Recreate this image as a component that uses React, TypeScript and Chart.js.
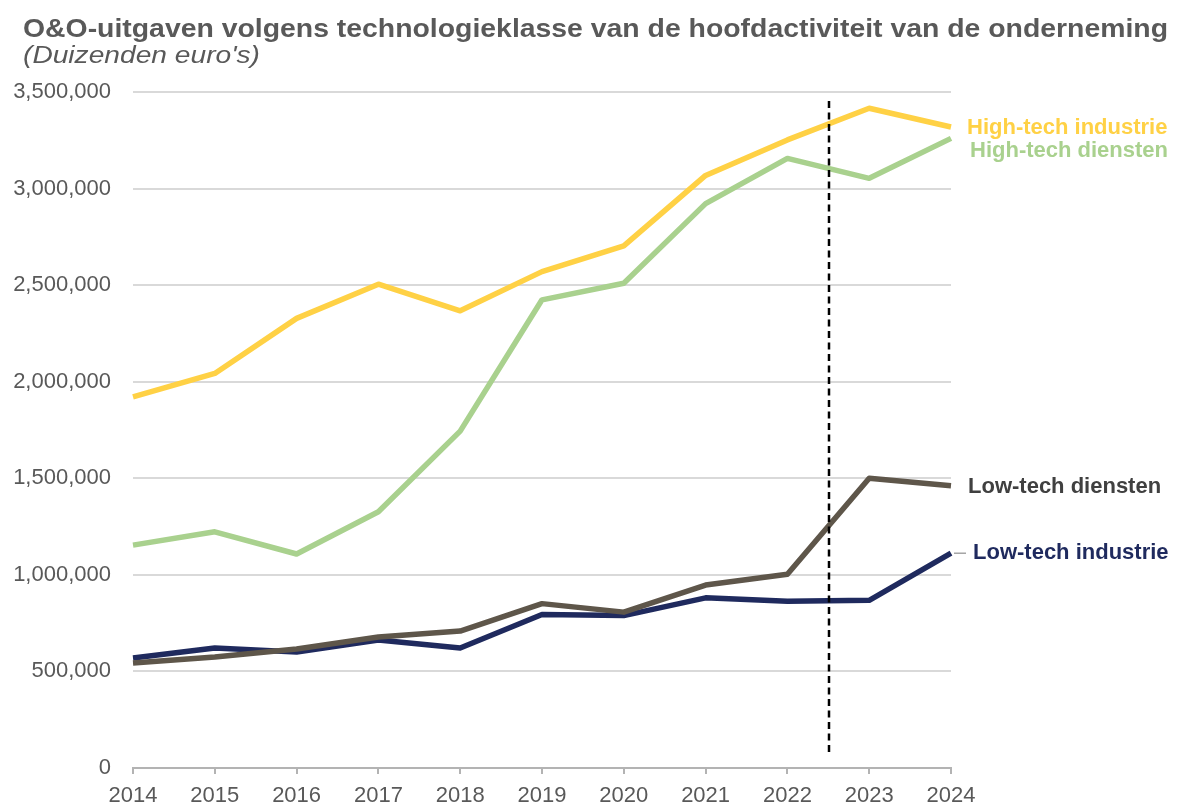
import React, { useEffect, useRef } from 'react';
import { Chart, registerables } from 'chart.js';

Chart.register(...registerables);

const years = ['2014', '2015', '2016', '2017', '2018', '2019', '2020', '2021', '2022', '2023', '2024'];
const highTechIndustrie = [1922000, 2043000, 2328000, 2505000, 2367000, 2570000, 2703000, 3068000, 3252000, 3416000, 3319000];
const highTechDiensten = [1154000, 1223000, 1108000, 1327000, 1744000, 2424000, 2510000, 2922000, 3156000, 3053000, 3260000];
const lowTechDiensten = [544000, 575000, 616000, 678000, 709000, 851000, 807000, 947000, 1003000, 1500000, 1461000];
const lowTechIndustrie = [570000, 621000, 600000, 663000, 621000, 795000, 789000, 881000, 863000, 868000, 1112000];

const titleText = 'O&O-uitgaven volgens technologieklasse van de hoofdactiviteit van de onderneming';
const subtitleText = "(Duizenden euro's)";
const yMax = 3500000;
const yStep = 500000;
const dividerIndex = 8.5; // between 2022 and 2023

const FONT = '"Liberation Sans", Arial, Helvetica, sans-serif';
const GREY_TEXT = '#595959';

const labelConfig = [
  { text: 'Low-tech diensten', color: '#404040', dx: 17, dy: 1, leader: false },
  { text: 'Low-tech industrie', color: '#1f2a5e', dx: 22, dy: 0, leader: true },
  { text: 'High-tech diensten', color: '#a9d18e', dx: 19, dy: 13, leader: false },
  { text: 'High-tech industrie', color: '#ffd145', dx: 16, dy: 1, leader: false },
];

const decorPlugin = {
  id: 'decor',
  afterDraw(chart: any) {
    const ctx = chart.ctx;
    const area = chart.chartArea;
    const xScale = chart.scales.x;

    // Title
    ctx.save();
    ctx.fillStyle = GREY_TEXT;
    ctx.textBaseline = 'alphabetic';
    ctx.textAlign = 'left';
    ctx.font = `bold 25px ${FONT}`;
    let w = ctx.measureText(titleText).width;
    let sx = 1145 / w;
    ctx.save();
    ctx.translate(23, 37);
    ctx.scale(sx, 1);
    ctx.fillText(titleText, 0, 0);
    ctx.restore();

    ctx.font = `italic 24px ${FONT}`;
    w = ctx.measureText(subtitleText).width;
    sx = 237 / w;
    ctx.save();
    ctx.translate(23, 63);
    ctx.scale(sx, 1);
    ctx.fillText(subtitleText, 0, 0);
    ctx.restore();
    ctx.restore();

    // Dashed divider
    const dx = Math.round(xScale.getPixelForValue(dividerIndex)) + 1;
    ctx.save();
    ctx.strokeStyle = '#000000';
    ctx.lineWidth = 2.5;
    ctx.setLineDash([7, 4.5]);
    ctx.beginPath();
    ctx.moveTo(dx, area.top + 9);
    ctx.lineTo(dx, area.bottom - 12);
    ctx.stroke();
    ctx.restore();

    // Series labels
    chart.data.datasets.forEach((ds: any, i: number) => {
      const meta = chart.getDatasetMeta(i);
      const pts = meta.data;
      const last = pts[pts.length - 1];
      const cfg = labelConfig[i];
      const y = last.y + cfg.dy;
      ctx.save();
      if (cfg.leader) {
        ctx.strokeStyle = '#a6a6a6';
        ctx.lineWidth = 1.5;
        ctx.beginPath();
        ctx.moveTo(area.right + 3, y);
        ctx.lineTo(area.right + 15, y);
        ctx.stroke();
      }
      ctx.font = `bold 22px ${FONT}`;
      ctx.fillStyle = cfg.color;
      ctx.textBaseline = 'middle';
      ctx.textAlign = 'left';
      ctx.fillText(cfg.text, area.right + cfg.dx, y);
      ctx.restore();
    });
  },
};

export default function App() {
  const canvasRef = useRef<HTMLCanvasElement | null>(null);

  useEffect(() => {
    document.body.style.margin = '0';
    const canvas = canvasRef.current;
    if (!canvas) return;
    const chart = new Chart(canvas, {
      type: 'line',
      data: {
        labels: years,
        datasets: [
          { label: 'Low-tech diensten', data: lowTechDiensten, borderColor: '#5e564a', backgroundColor: '#5e564a' },
          { label: 'Low-tech industrie', data: lowTechIndustrie, borderColor: '#1f2a5e', backgroundColor: '#1f2a5e' },
          { label: 'High-tech diensten', data: highTechDiensten, borderColor: '#a9d18e', backgroundColor: '#a9d18e' },
          { label: 'High-tech industrie', data: highTechIndustrie, borderColor: '#ffd145', backgroundColor: '#ffd145' },
        ].map((d) => ({
          ...d,
          borderWidth: 5.5,
          pointRadius: 0,
          pointHoverRadius: 0,
          tension: 0,
          fill: false,
          borderJoinStyle: 'round' as const,
          borderCapStyle: 'butt' as const,
        })),
      },
      options: {
        responsive: false,
        animation: false,
        devicePixelRatio: 1,
        layout: { padding: { left: 0, right: 233, top: 92, bottom: 0 } },
        plugins: {
          legend: { display: false },
          title: { display: false },
          tooltip: { enabled: false },
        },
        scales: {
          x: {
            type: 'category',
            offset: false,
            grid: {
              drawOnChartArea: false,
              drawTicks: true,
              tickLength: 6,
              color: '#b3b3b3',
              lineWidth: 2,
            },
            border: { display: true, color: '#b3b3b3', width: 2 },
            ticks: {
              color: GREY_TEXT,
              font: { family: FONT, size: 22 },
              padding: 9,
              maxRotation: 0,
              autoSkip: false,
            },
            afterFit(scale: any) {
              scale.height = 37;
            },
          },
          y: {
            min: 0,
            max: yMax,
            ticks: {
              stepSize: yStep,
              color: GREY_TEXT,
              font: { family: FONT, size: 22 },
              padding: 22,
              callback: (v: any) => Number(v).toLocaleString('en-US'),
            },
            grid: {
              drawTicks: false,
              color: (c: any) => (c.tick && c.tick.value === 0 ? 'rgba(0,0,0,0)' : '#d9d9d9'),
              lineWidth: 2,
            },
            border: { display: false },
            afterFit(scale: any) {
              scale.width = 133;
            },
          },
        },
      },
      plugins: [decorPlugin],
    });
    return () => chart.destroy();
  }, []);

  return (
    <div style={{ position: 'absolute', left: 0, top: 0, width: 1184, height: 805, background: '#ffffff' }}>
      <canvas ref={canvasRef} width={1184} height={805} style={{ width: 1184, height: 805 }} />
    </div>
  );
}
